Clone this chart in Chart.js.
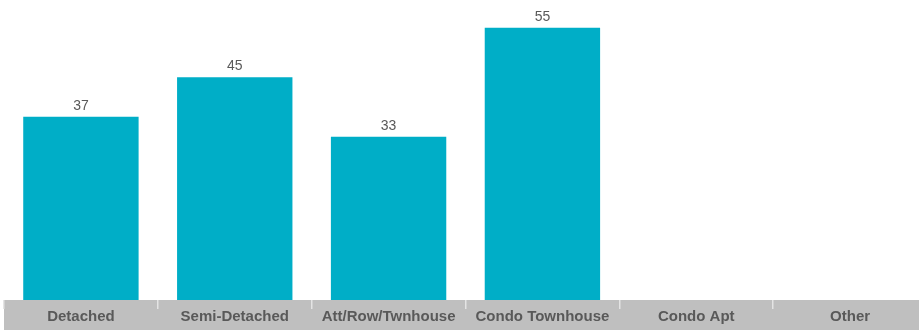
<!DOCTYPE html>
<html>
<head>
<meta charset="utf-8">
<script src="https://cdn.jsdelivr.net/npm/chart.js@4"></script>
<style>
  html, body { margin: 0; padding: 0; background: #fff; overflow: hidden; }
  .chart-box { width: 927px; height: 330px; }
</style>
</head>
<body>
<div class="chart-box"><canvas id="chart"></canvas></div>
<script>
const categories = ["Detached", "Semi-Detached", "Att/Row/Twnhouse", "Condo Townhouse", "Condo Apt", "Other"];
const values = [37, 45, 33, 55, null, null];

const BAR_COLOR = "#00aec7";
const BAND_COLOR = "#bfbfbf";
const TEXT_COLOR = "#595959";

// grey strip behind the category labels
const bandPlugin = {
  id: "band",
  beforeDraw(chart) {
    const { ctx, chartArea } = chart;
    ctx.save();
    ctx.fillStyle = BAND_COLOR;
    ctx.fillRect(chartArea.left, chartArea.bottom, chartArea.right - chartArea.left, chart.height - chartArea.bottom);
    ctx.restore();
  },
};

// value labels above each bar
const valueLabels = {
  id: "valueLabels",
  afterDatasetsDraw(chart) {
    const { ctx } = chart;
    const meta = chart.getDatasetMeta(0);
    ctx.save();
    ctx.font = "14px 'Liberation Sans', Arial, sans-serif";
    ctx.fillStyle = TEXT_COLOR;
    ctx.textAlign = "center";
    ctx.textBaseline = "bottom";
    meta.data.forEach((bar, i) => {
      if (values[i] == null) return;
      ctx.fillText(values[i], bar.x, bar.y - 4);
    });
    ctx.restore();
  },
};

new Chart(document.getElementById("chart"), {
  type: "bar",
  data: {
    labels: categories,
    datasets: [
      {
        data: values,
        backgroundColor: BAR_COLOR,
        barPercentage: 0.75,
        categoryPercentage: 1,
      },
    ],
  },
  options: {
    responsive: true,
    maintainAspectRatio: false,
    animation: false,
    layout: { padding: { left: 4, top: 3, right: 0, bottom: 0 } },
    plugins: {
      legend: { display: false },
      tooltip: { enabled: false },
    },
    scales: {
      x: {
        border: { display: false },
        grid: {
          offset: true,
          drawOnChartArea: false,
          tickLength: 9,
          color: "#e4e4e4",
          lineWidth: 1.5,
        },
        ticks: {
          padding: -1,
          color: TEXT_COLOR,
          font: { family: "'Liberation Sans', Arial, sans-serif", size: 15, weight: "bold" },
          maxRotation: 0,
          autoSkip: false,
        },
        afterFit(scale) {
          scale.height = 30;
        },
      },
      y: {
        display: false,
        min: 0,
        max: 60,
      },
    },
  },
  plugins: [bandPlugin, valueLabels],
});
</script>
</body>
</html>
